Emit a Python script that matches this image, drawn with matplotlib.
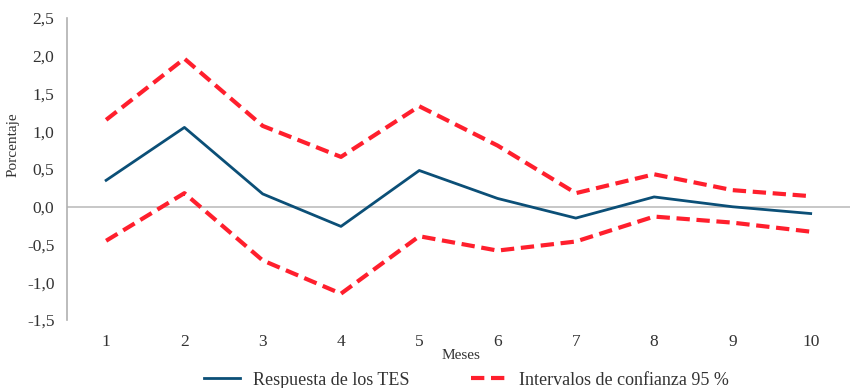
import matplotlib
matplotlib.use("Agg")
import matplotlib.pyplot as plt
from matplotlib.ticker import FuncFormatter

months = [1, 2, 3, 4, 5, 6, 7, 8, 9, 10]
respuesta = [0.35, 1.05, 0.17, -0.26, 0.48, 0.11, -0.15, 0.13, 0.00, -0.09]
upper = [1.15, 1.96, 1.07, 0.66, 1.33, 0.81, 0.18, 0.43, 0.22, 0.14]
lower = [-0.45, 0.18, -0.71, -1.15, -0.39, -0.58, -0.46, -0.13, -0.21, -0.33]
yticks = [-1.5, -1.0, -0.5, 0.0, 0.5, 1.0, 1.5, 2.0, 2.5]

plt.rcParams['font.family'] = ['Liberation Serif', 'DejaVu Serif']

fig = plt.figure(figsize=(8.5, 3.88), dpi=100)
ax = fig.add_axes([0.0788, 0.175, 0.921, 0.779])

blue = '#0b4f77'
red = '#ff1f2d'

ax.axhline(0, color='#bdbdbd', lw=1.2, zorder=1)
ax.plot(months, respuesta, color=blue, lw=2.0, label='Respuesta de los TES', zorder=3)
ax.plot(months, upper, color=red, lw=3.0, dashes=(3.2, 1.6),
        label='Intervalos de confianza 95 %', zorder=2, dash_capstyle='butt')
ax.plot(months, lower, color=red, lw=3.0, dashes=(3.2, 1.6), zorder=2, dash_capstyle='butt')

ax.set_xlim(0.5, 10.5)
ax.set_ylim(-1.5, 2.5)
ax.set_xticks(months)
ax.set_yticks(yticks)
ax.yaxis.set_major_formatter(FuncFormatter(lambda v, p: f"{v:.1f}".replace('.', ',')))
ax.tick_params(axis='both', length=0, labelsize=12.5, colors='#333333')
ax.tick_params(axis='y', pad=9)
ax.tick_params(axis='x', pad=10)

for s in ['top', 'right', 'bottom']:
    ax.spines[s].set_visible(False)
ax.spines['left'].set_color('#b0b0b0')
ax.spines['left'].set_linewidth(1.2)

ax.set_ylabel('Porcentaje', fontsize=11, color='#333333', labelpad=4)
ax.yaxis.set_label_coords(-0.06, 0.58)
fig.text(0.542, 0.083, 'Meses', fontsize=11, color='#333333', ha='center', va='center')

fig.legend(loc='center', bbox_to_anchor=(0.549, 0.02), ncol=2, frameon=False,
           fontsize=13, handlelength=2.0, columnspacing=3.4, handletextpad=0.7,
           labelcolor='#333333')

fig.savefig('out.png', dpi=100)
